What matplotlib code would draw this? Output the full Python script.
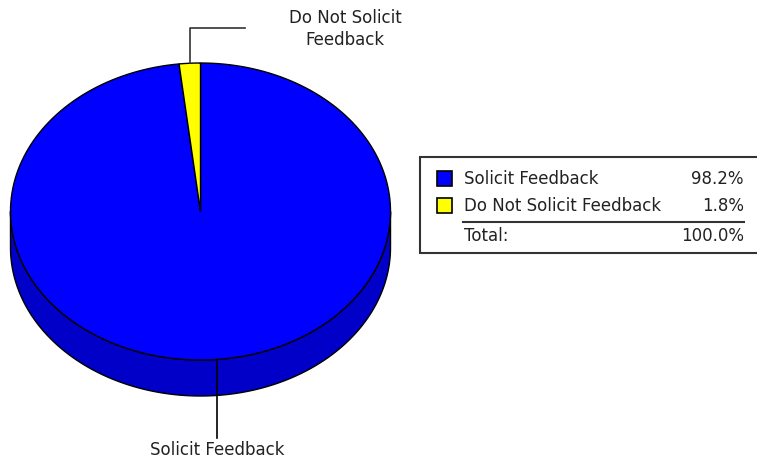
import matplotlib.pyplot as plt
import numpy as np
from matplotlib.patches import Polygon, Rectangle

categories = ["Solicit Feedback", "Do Not Solicit Feedback"]
shares = [98.2, 1.8]
label_lines = ["Solicit Feedback", "Do Not Solicit\nFeedback"]
total_label = "Total:"

top_colors = ["#0000ff", "#ffff00"]
side_colors = ["#0000c8", "#c8c800"]

W, H = 757, 462
cx, cy, rx, ry, depth = 200.5, 211.5, 190.0, 148.5, 36.0

plt.rcParams["font.family"] = ["DejaVu Sans"]
fig = plt.figure(figsize=(W / 100, H / 100), dpi=100)
ax = fig.add_axes([0, 0, 1, 1])
ax.set_xlim(0, W)
ax.set_ylim(H, 0)
ax.axis("off")


def pt(t, dy=0.0):
    t = np.radians(t)
    return cx + rx * np.cos(t), cy - ry * np.sin(t) + dy


def arc(a0, a1, dy=0.0, n=200):
    ts = np.linspace(a0, a1, n)
    return [pt(t, dy) for t in ts]


# slice angles, clockwise from 12 o'clock
angles = []
start = 90.0
for s in shares:
    end = start - s / sum(shares) * 360
    angles.append((start, end))
    start = end

# side walls (only the front half is visible)
for (a0, a1), col in zip(angles, side_colors):
    lo, hi = min(a0, a1), max(a0, a1)
    for shift in (-360, 0, 360):
        s0, s1 = max(lo + shift, -180), min(hi + shift, 0)
        if s1 > s0:
            pts = arc(s0, s1) + arc(s1, s0, depth)
            ax.add_patch(Polygon(pts, closed=True, facecolor=col,
                                 edgecolor="black", lw=1.0, zorder=1))

# top faces
for (a0, a1), col in zip(angles, top_colors):
    pts = [(cx, cy)] + arc(a0, a1)
    ax.add_patch(Polygon(pts, closed=True, facecolor=col,
                         edgecolor="black", lw=1.0, zorder=2))

# leader lines and labels
fs = 12
txt = "#222222"
mid0 = (angles[0][0] + angles[0][1]) / 2
x0, y0 = pt(mid0)
x0 += 6
ax.plot([x0, x0], [y0 + 1, 438], color="black", lw=1.2, zorder=3)
ax.text(x0, 450, label_lines[0], ha="center", va="center", fontsize=fs, color=txt)

mid1 = (angles[1][0] + angles[1][1]) / 2
x1, y1 = pt(mid1)
ax.plot([x1, x1, 245], [y1, 28, 28], color="#333333", lw=1.2, zorder=3)
ax.text(345, 29, label_lines[1], ha="center", va="center", fontsize=fs,
        color=txt, linespacing=1.3)

# legend box
ax.add_patch(Rectangle((420, 157), 345, 96, facecolor="white",
                       edgecolor="#333333", lw=1.5, zorder=1))
for i, (cat, val, col) in enumerate(zip(categories, shares, top_colors)):
    y = 179 + i * 27
    ax.add_patch(Rectangle((437, y - 8), 15, 15, facecolor=col,
                           edgecolor="black", lw=1.2, zorder=3))
    ax.text(464, y, cat, ha="left", va="center", fontsize=fs, color=txt)
    ax.text(744, y, f"{val:.1f}%", ha="right", va="center", fontsize=fs, color=txt)
ax.plot([463, 744], [222, 222], color="#333333", lw=1.5)
ax.text(464, 236, total_label, ha="left", va="center", fontsize=fs, color=txt)
ax.text(744, 236, f"{sum(shares):.1f}%", ha="right", va="center", fontsize=fs, color=txt)

fig.savefig("out.png", dpi=100)
